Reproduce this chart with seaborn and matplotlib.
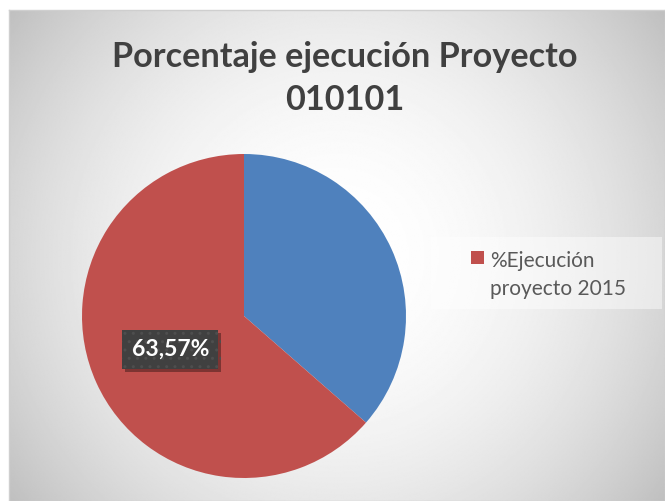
import numpy as np
import matplotlib
matplotlib.use('Agg')
import matplotlib.pyplot as plt
import matplotlib.patheffects as pe
from matplotlib.patches import Rectangle
import seaborn as sns

# Datos del grafico
categorias = ['Resto', '%Ejecución\nproyecto 2015']
valores = [36.43, 63.57]
colores = ['#4F81BD', '#C0504D']
titulo = 'Porcentaje ejecución Proyecto\n010101'

sns.set_theme(style='white')
plt.rcParams['font.family'] = ['Lato', 'DejaVu Sans']
plt.rcParams['hatch.linewidth'] = 1.0

W, H = 665, 501
fig = plt.figure(figsize=(W / 100, H / 100), dpi=100)
fig.patch.set_facecolor('white')

# Fondo con degradado radial (blanco al centro, gris en las esquinas)
bx0, by0 = 9, 10
bw, bh = W - bx0, H - by0
bg = fig.add_axes([bx0 / W, 0, bw / W, bh / H])
yy, xx = np.mgrid[-1:1:400j, -1:1:500j]
d2 = ((xx * bw / 2) ** 2 + (yy * bh / 2) ** 2) / ((bw / 2) ** 2 + (bh / 2) ** 2)
bg.imshow(1 - 0.25 * d2, cmap='gray', vmin=0, vmax=1, aspect='auto',
          interpolation='bilinear')
bg.set_xticks([])
bg.set_yticks([])
for s in bg.spines.values():
    s.set_color('#cfcfcf')
    s.set_linewidth(1)

# Grafico de torta
r = 162
cx, cy = 244, 316
ax = fig.add_axes([(cx - r) / W, (H - cy - r) / H, 2 * r / W, 2 * r / H])


def etiqueta(p):
    return f'{p:.2f}%'.replace('.', ',') if p > 50 else ''


wedges, texts, autotexts = ax.pie(valores, colors=colores, startangle=90,
                                  counterclock=False, autopct=etiqueta,
                                  pctdistance=0.5, wedgeprops=dict(linewidth=0))
ax.set_xlim(-1, 1)
ax.set_ylim(-1, 1)
ax.set_aspect('equal')

lbl = autotexts[1]
lbl.set_color('white')
lbl.set_fontsize(16.5)
lbl.set_fontweight('bold')
lbl.set_bbox(dict(boxstyle='square,pad=0.4', fc='#404040', ec='#4e4e4e',
                  lw=0, hatch='..'))
lbl.get_bbox_patch().set_path_effects([
    pe.SimplePatchShadow(offset=(2, -2), shadow_rgbFace='black', alpha=0.35),
    pe.Normal()])

# Titulo
fig.text(345 / W, 1 - 110 / H, titulo, ha='center', va='baseline',
         fontsize=24.7, fontweight='bold', color='#404040', linespacing=1.44)

# Leyenda (solo la serie roja)
fig.patches.append(Rectangle((431 / W, 1 - 309 / H), 231 / W, 72 / H,
                             transform=fig.transFigure, fc='white',
                             alpha=0.45, ec='none'))
fig.patches.append(Rectangle((471 / W, 1 - 264 / H), 13 / W, 13 / H,
                             transform=fig.transFigure, fc=colores[1],
                             ec='none'))
fig.text(490 / W, 1 - 295 / H, categorias[1], ha='left', va='baseline',
         fontsize=15, color='#595959', linespacing=1.5)

fig.savefig('out.png', dpi=100)
